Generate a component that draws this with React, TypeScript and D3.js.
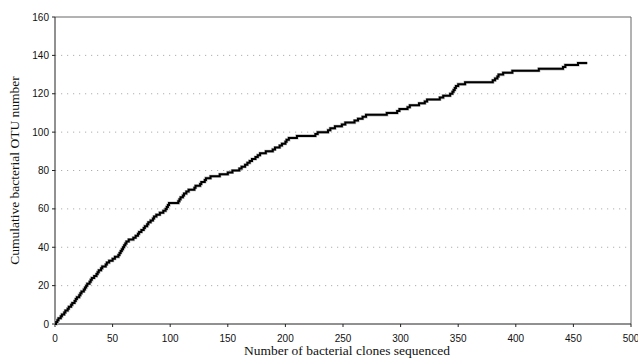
import React from "react";
import * as d3 from "d3";

const clones = [0, 1, 2, 3, 5, 6, 8, 9, 11, 12, 14, 15, 17, 18, 19, 21, 22, 23, 25, 26, 27, 28, 30, 31, 32, 34, 36, 37, 38, 40, 41, 44, 45, 47, 50, 52, 55, 56, 57, 58, 59, 60, 61, 62, 64, 68, 70, 72, 73, 75, 77, 78, 80, 81, 83, 85, 86, 88, 91, 94, 96, 97, 98, 99, 107, 108, 109, 111, 112, 114, 116, 121, 122, 126, 127, 130, 131, 135, 143, 150, 154, 160, 162, 165, 167, 169, 171, 174, 176, 178, 183, 189, 191, 195, 197, 200, 201, 203, 210, 226, 228, 237, 239, 243, 249, 252, 260, 263, 267, 270, 288, 297, 299, 306, 308, 316, 321, 323, 334, 337, 343, 345, 346, 347, 348, 350, 356, 380, 382, 384, 385, 389, 397, 420, 441, 443, 454, 462];
const otus = [0, 1, 2, 3, 4, 5, 6, 7, 8, 9, 10, 11, 12, 13, 14, 15, 16, 17, 18, 19, 20, 21, 22, 23, 24, 25, 26, 27, 28, 29, 30, 31, 32, 33, 34, 35, 36, 37, 38, 39, 40, 41, 42, 43, 44, 45, 46, 47, 48, 49, 50, 51, 52, 53, 54, 55, 56, 57, 58, 59, 60, 61, 62, 63, 64, 65, 66, 67, 68, 69, 70, 71, 72, 73, 74, 75, 76, 77, 78, 79, 80, 81, 82, 83, 84, 85, 86, 87, 88, 89, 90, 91, 92, 93, 94, 95, 96, 97, 98, 99, 100, 101, 102, 103, 104, 105, 106, 107, 108, 109, 110, 111, 112, 113, 114, 115, 116, 117, 118, 119, 120, 121, 122, 123, 124, 125, 126, 127, 128, 129, 130, 131, 132, 133, 134, 135, 136, 136];
const xTicks = [0, 50, 100, 150, 200, 250, 300, 350, 400, 450, 500];
const yTicks = [0, 20, 40, 60, 80, 100, 120, 140, 160];
const xTitle = "Number of bacterial clones sequenced";
const yTitle = "Cumulative bacterial OTU number";

export default function App() {
  const W = 638, H = 360;
  const L = 55, R = 631, T = 17, B = 324;
  const x = d3.scaleLinear().domain([0, 500]).range([L, R]);
  const y = d3.scaleLinear().domain([0, 160]).range([B, T]);
  const n = Math.min(clones.length, otus.length);
  const pts = clones.slice(0, n).map((c, i) => [c, otus[i]] as [number, number]);
  const line = d3.line<[number, number]>().x(d => x(d[0])).y(d => y(d[1])).curve(d3.curveStepAfter);
  const path = line(pts) || "";
  return (
    <svg width={W} height={H} style={{ position: "absolute", left: 0, top: 0, background: "#fff" }}>
      <rect x={0} y={0} width={W} height={H} fill="#fff" />
      {yTicks.filter(t => t > 0 && t < 160).map(t => (
        <line key={"g" + t} x1={L} x2={R} y1={y(t)} y2={y(t)} stroke="#9a9a9a" strokeWidth={0.8} strokeDasharray="1.2,4.8" />
      ))}
      <line x1={L} x2={R} y1={T} y2={T} stroke="#666" strokeWidth={1} />
      <line x1={R} x2={R} y1={T} y2={B} stroke="#666" strokeWidth={1} />
      <line x1={L} x2={L} y1={T} y2={B} stroke="#222" strokeWidth={1} />
      <line x1={L} x2={R} y1={B} y2={B} stroke="#222" strokeWidth={1} />
      {yTicks.map(t => (
        <g key={"y" + t}>
          <line x1={L - 3} x2={L} y1={y(t)} y2={y(t)} stroke="#222" />
          <text x={L - 6} y={y(t)} dy="0.35em" textAnchor="end" fontFamily="Liberation Sans, Arial, sans-serif" fontSize={10} fill="#111">{t}</text>
        </g>
      ))}
      {xTicks.map(t => (
        <g key={"x" + t}>
          <line x1={x(t)} x2={x(t)} y1={B} y2={B + 3} stroke="#222" />
          <text x={x(t)} y={B + 18} textAnchor="middle" fontFamily="Liberation Sans, Arial, sans-serif" fontSize={10} fill="#111">{t}</text>
        </g>
      ))}
      <path d={path} fill="none" stroke="#bbb" strokeWidth={3.2} />
      <path d={path} fill="none" stroke="#000" strokeWidth={2} />
      <text x={(L + R) / 2 + 4} y={355} textAnchor="middle" fontFamily="Liberation Serif, Times New Roman, serif" fontSize={13.5} fill="#111">{xTitle}</text>
      <text transform={`translate(19, ${(T + B) / 2}) rotate(-90)`} textAnchor="middle" fontFamily="Liberation Serif, Times New Roman, serif" fontSize={13.5} fill="#111">{yTitle}</text>
    </svg>
  );
}
